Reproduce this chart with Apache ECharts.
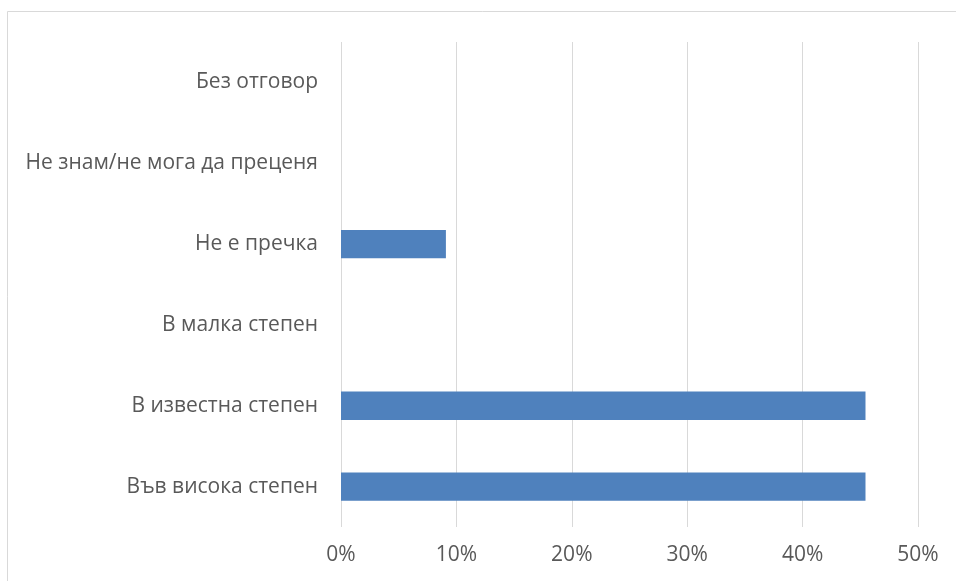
<!DOCTYPE html>
<html><head><meta charset="utf-8">
<script src="https://cdn.jsdelivr.net/npm/echarts@6/dist/echarts.min.js"></script>
<style>html,body{margin:0;padding:0;background:#fff}#c{width:956px;height:581px}</style>
</head><body><div id="c"></div>
<script>
const categories = ["Във висока степен","В известна степен","В малка степен","Не е пречка","Не знам/не мога да преценя","Без отговор"];
const values = [45.45, 45.45, 0, 9.09, 0, 0];
const tickMax = 50;
const tickStep = 10;

const chart = echarts.init(document.getElementById('c'), null, {renderer:'canvas'});
chart.setOption({
  animation:false,
  backgroundColor:'#fff',
  graphic:[{type:'rect', shape:{x:7.5,y:11.5,width:960,height:580}, style:{fill:null, stroke:'#D9D9D9', lineWidth:1}}],
  grid:{left:341, right:38, top:42, bottom:54},
  xAxis:{type:'value', min:0, max:tickMax, interval:tickStep,
    axisLine:{show:false}, axisTick:{show:false},
    splitLine:{lineStyle:{color:'#D9D9D9', width:1}},
    axisLabel:{formatter:'{value}%', color:'#595959', fontFamily:'Open Sans', fontSize:21, margin:18}},
  yAxis:{type:'category', data:categories,
    axisLine:{show:false}, axisTick:{show:false},
    axisLabel:{color:'#595959', fontFamily:'Open Sans', fontSize:21, margin:23}},
  series:[{type:'bar', data:values, barCategoryGap:'65%',
    itemStyle:{color:'#4F81BD'}}]
});
</script></body></html>
